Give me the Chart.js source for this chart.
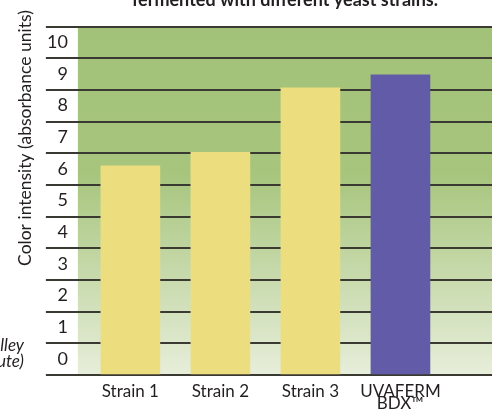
<!DOCTYPE html>
<html>
<head>
<meta charset="utf-8">
<script src="https://cdn.jsdelivr.net/npm/chart.js@4"></script>
<style>
  html, body { margin: 0; padding: 0; background: #fff; overflow: hidden; }
  #wrap { position: relative; width: 495px; height: 414px; overflow: hidden; }
  #covyChart { position: absolute; left: 0; top: -30px; }
  .note {
    position: absolute; right: 471px; top: 337px; width: 200px;
    text-align: right; font: italic 17px Lato, sans-serif; line-height: 16px; color: #231f20;
  }
</style>
</head>
<body>
<div id="wrap">
  <canvas id="covyChart" width="495" height="456"></canvas>
  <div class="note">Valley<br>Institute)</div>
</div>
<script>
const chartTitle = 'fermented with different yeast strains.';
const yTitle = 'Color intensity (absorbance units)';
const strains = ['Strain 1', 'Strain 2', 'Strain 3', ['UVAFERM', 'BDX™']];
const intensity = [6.6, 7.03, 9.07, 9.48];
const barColors = ['#ecdd7e', '#ecdd7e', '#ecdd7e', '#625ca8'];
const yTicks = [0, 1, 2, 3, 4, 5, 6, 7, 8, 9, 10, 11];
const yLabels = ['0', '1', '2', '3', '4', '5', '6', '7', '8', '9', '10', ''];

// green fill behind the plot
const greenBg = {
  id: 'greenBg',
  beforeDraw: (chart) => {
    const {ctx, chartArea} = chart;
    if (!chartArea) return;
    let g = ctx.createLinearGradient(0, chartArea.top, 0, chartArea.bottom);
    g.addColorStop(0, '#a3c279');
    g.addColorStop(0.42, '#a7c57d');
    g.addColorStop(1, '#e7eeda');
    ctx.save();
    ctx.fillStyle = g;
    ctx.fillRect(chartArea.left, chartArea.top, chartArea.right - chartArea.left, chartArea.bottom - chartArea.top);
    ctx.restore();
  }
};

var ctx = document.getElementById('covyChart').getContext('2d');

var covyChart = new Chart(ctx, {
  type: 'bar',
  data: {
    datasets: [{
      data: strains.map((s, i) => ({x: i, y: intensity[i]})),
      backgroundColor: barColors,
      borderWidth: 0,
      barThickness: 59
    }]
  },
  options: {
    responsive: false,
    animation: false,
    layout: { padding: { left: 11, right: 3, top: 0, bottom: 6 } },
    plugins: {
      legend: { display: false },
      tooltip: { enabled: false },
      title: {
        display: true,
        text: chartTitle,
        fullSize: false,
        color: '#231f20',
        font: { family: 'Lato', size: 18, weight: 'bold' },
        padding: { top: 19, bottom: 16 }
      }
    },
    scales: {
      x: {
        type: 'linear',
        offset: false,
        min: -0.583,
        max: 4.017,
        afterBuildTicks: (axis) => { axis.ticks = strains.map((s, i) => ({value: i})); },
        grid: { display: false, drawTicks: false },
        border: { display: false },
        ticks: {
          autoSkip: false,
          maxRotation: 0,
          padding: 11,
          color: '#231f20',
          font: { family: 'Lato', size: 17, lineHeight: 0.68 },
          callback: (v) => strains[v]
        }
      },
      y: {
        min: 0,
        max: 11,
        afterBuildTicks: (axis) => { axis.ticks = yTicks.map((v) => ({value: v})); },
        grid: { color: '#3a3a33', lineWidth: 2, tickLength: 32 },
        border: { display: false },
        title: {
          display: true,
          // leading spaces lift the title towards the top like the original
          text: ' '.repeat(28) + yTitle,
          color: '#231f20',
          font: { family: 'Lato', size: 17.5 },
          padding: { top: 4, bottom: 33 }
        },
        ticks: {
          autoSkip: false,
          padding: -22,
          labelOffset: -16,
          color: '#231f20',
          font: { family: 'Lato', size: 18 },
          callback: (v, i) => yLabels[i]
        }
      }
    }
  },
  plugins: [greenBg]
});
</script>
</body>
</html>
